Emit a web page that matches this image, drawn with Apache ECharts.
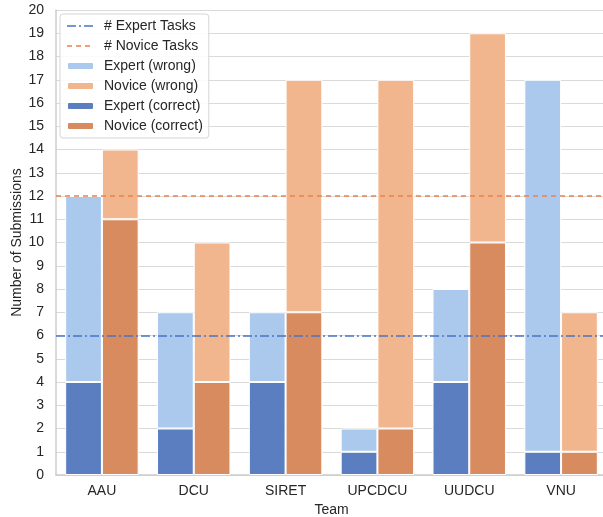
<!DOCTYPE html>
<html>
<head>
<meta charset="utf-8">
<script src="https://cdn.jsdelivr.net/npm/echarts@6/dist/echarts.min.js"></script>
<style>html,body{margin:0;padding:0;background:#fff;}#c{width:603px;height:517px;}</style>
</head>
<body>
<div id="c"></div>
<script>
const teams = ['AAU', 'DCU', 'SIRET', 'UPCDCU', 'UUDCU', 'VNU'];
const expertTotal = [12, 7, 7, 2, 8, 17];
const expertCorrect = [4, 2, 4, 1, 4, 1];
const noviceTotal = [14, 10, 17, 17, 19, 7];
const noviceCorrect = [11, 4, 7, 2, 10, 1];
const expertTasks = 6;
const noviceTasks = 12;
const yTicks = [0, 20, 1];

const expertWrong = expertTotal.map((v, i) => v - expertCorrect[i]);
const noviceWrong = noviceTotal.map((v, i) => v - noviceCorrect[i]);

const FONT = 'Liberation Sans';
const TXT = '#262626';
const chart = echarts.init(document.getElementById('c'), null, {renderer: 'canvas'});
const barItem = c => ({color: c, borderColor: '#fff', borderWidth: 1});
const EXP_DASH = [9, 3, 2, 3];
const NOV_DASH = [5, 4];
chart.setOption({
  animation: false,
  textStyle: {fontFamily: FONT, color: TXT},
  grid: {left: 56, right: -4, top: 10, bottom: 42, containLabel: false, outerBoundsMode: 'none'},
  legend: {
    orient: 'vertical', left: 60, top: 14,
    itemWidth: 27, itemHeight: 8, itemGap: 6,
    padding: [5, 6, 5, 6],
    borderColor: '#d5d5d5', borderWidth: 1, borderRadius: 3,
    backgroundColor: 'rgba(255,255,255,0.85)',
    textStyle: {fontFamily: FONT, fontSize: 14, color: TXT, padding: [0, 0, 0, 5]},
    data: [
      {name: '# Expert Tasks', itemStyle: {opacity: 0}, lineStyle: {color: '#4a73c4', width: 1.6, type: EXP_DASH}},
      {name: '# Novice Tasks', itemStyle: {opacity: 0}, lineStyle: {color: '#e8834e', width: 1.6, type: NOV_DASH}},
      'Expert (wrong)', 'Novice (wrong)', 'Expert (correct)', 'Novice (correct)'
    ]
  },
  xAxis: {
    type: 'category', data: teams,
    name: 'Team', nameLocation: 'middle', nameGap: 28, nameMoveOverlap: false,
    nameTextStyle: {fontFamily: FONT, fontSize: 14, color: TXT},
    axisTick: {show: false},
    axisLine: {lineStyle: {color: '#cccccc', width: 1.5}},
    axisLabel: {fontFamily: FONT, fontSize: 14, color: TXT, margin: 9}
  },
  yAxis: {
    type: 'value', min: yTicks[0], max: yTicks[1], interval: yTicks[2],
    name: 'Number of Submissions', nameLocation: 'middle', nameGap: 32, nameMoveOverlap: false,
    nameTextStyle: {fontFamily: FONT, fontSize: 14, color: TXT},
    axisLine: {show: true, lineStyle: {color: '#cccccc', width: 1.5}},
    axisTick: {show: false},
    axisLabel: {fontFamily: FONT, fontSize: 14, color: TXT, margin: 12},
    splitLine: {lineStyle: {color: '#dadada', width: 1}}
  },
  series: [
    {name: 'Expert (correct)', type: 'bar', stack: 'e', data: expertCorrect, itemStyle: barItem('#5b7ec1'), barCategoryGap: '20%', barGap: '0%'},
    {name: 'Expert (wrong)', type: 'bar', stack: 'e', data: expertWrong, itemStyle: barItem('#abc9ed')},
    {name: 'Novice (correct)', type: 'bar', stack: 'n', data: noviceCorrect, itemStyle: barItem('#d98b60')},
    {name: 'Novice (wrong)', type: 'bar', stack: 'n', data: noviceWrong, itemStyle: barItem('#f1b68e')},
    {name: '# Expert Tasks', type: 'line', data: [], symbol: 'none', showSymbol: false, color: '#4a73c4',
      lineStyle: {color: '#4a73c4', width: 1.6, type: EXP_DASH},
      markLine: {silent: true, symbol: 'none', label: {show: false},
        lineStyle: {color: '#4a73c4', width: 1.6, type: EXP_DASH},
        data: [{yAxis: expertTasks}]}},
    {name: '# Novice Tasks', type: 'line', data: [], symbol: 'none', showSymbol: false, color: '#e8834e',
      lineStyle: {color: '#e8834e', width: 1.6, type: NOV_DASH},
      markLine: {silent: true, symbol: 'none', label: {show: false},
        lineStyle: {color: '#e8834e', width: 1.6, type: NOV_DASH},
        data: [{yAxis: noviceTasks}]}}
  ]
});
</script>
</body>
</html>
